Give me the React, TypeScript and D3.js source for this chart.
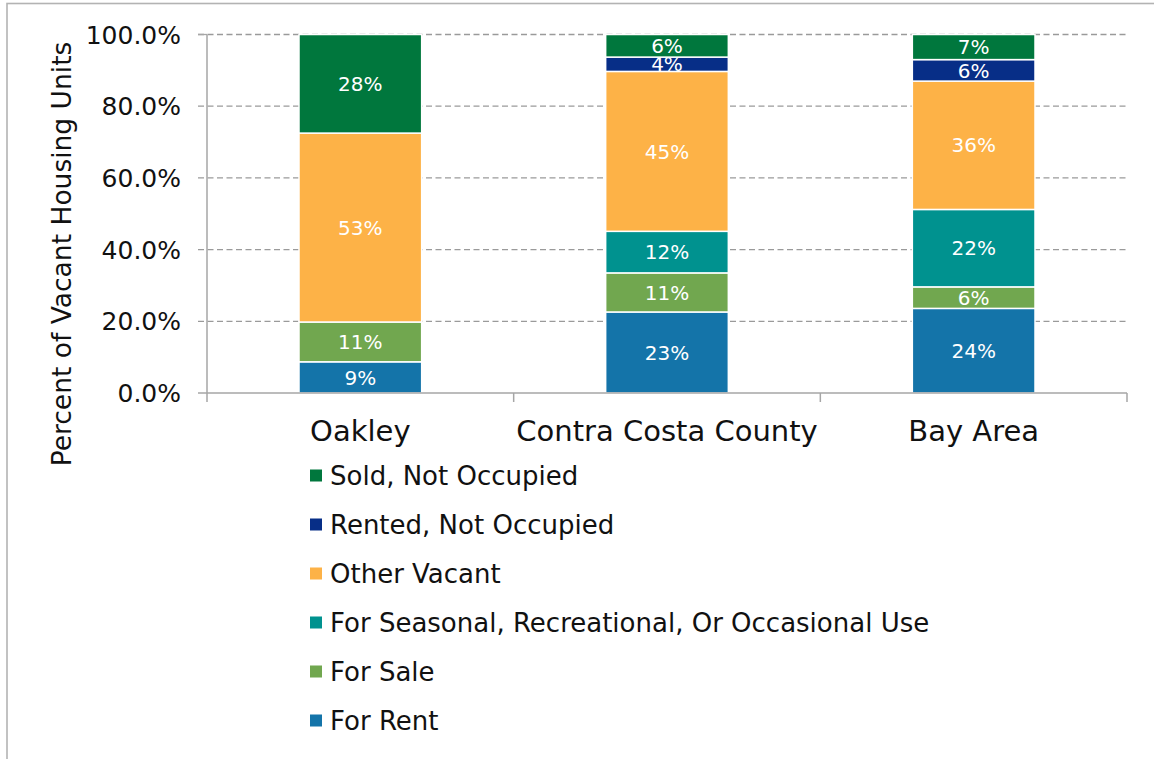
import React from "react";
import * as d3 from "d3";

const categories = ["Oakley", "Contra Costa County", "Bay Area"];
const seriesNames = [
  "For Rent",
  "For Sale",
  "For Seasonal, Recreational, Or Occasional Use",
  "Other Vacant",
  "Rented, Not Occupied",
  "Sold, Not Occupied",
];
const seriesColors = ["#1474A9", "#71A74F", "#00928F", "#FDB247", "#072E87", "#00773D"];
const forRent = [8.7, 22.6, 23.6];
const forSale = [11.1, 10.9, 6.0];
const seasonal = [0, 11.6, 21.6];
const otherVacant = [52.7, 44.6, 35.8];
const rentedNotOcc = [0, 4.0, 6.0];
const soldNotOcc = [27.5, 6.3, 7.0];
const yTicks = [0, 20, 40, 60, 80, 100];

const seriesValues = [forRent, forSale, seasonal, otherVacant, rentedNotOcc, soldNotOcc];

const W = 1154;
const H = 759;
const FONT = "'DejaVu Sans', sans-serif";

export default function App() {
  const x0 = 207, x1 = 1127, yTop = 34.5, yBot = 393;
  const x = d3.scaleBand<string>().domain(categories).range([x0, x1]).paddingInner(0.6).paddingOuter(0.3);
  const y = d3.scaleLinear().domain([0, 100]).range([yBot, yTop]);
  const rows = categories.map((c, i) => {
    const r: any = { cat: c };
    seriesNames.forEach((s, k) => (r[s] = seriesValues[k][i]));
    return r;
  });
  const stack = d3.stack<any>().keys(seriesNames)(rows);
  const step = x.step();
  const boundaries = d3.range(categories.length + 1).map((i) => x0 + i * step);
  const fmt = d3.format(".1f");

  return (
    <svg width={W} height={H} style={{ position: "absolute", left: 0, top: 0, background: "#fff" }} fontFamily={FONT}>
      <rect x={7} y={3.5} width={1300} height={900} fill="#fff" stroke="#b3b3b3" strokeWidth={1.6} />
      {/* gridlines */}
      {yTicks.filter((t) => t > 0).map((t) => (
        <line key={t} x1={x0 - 9} x2={x1} y1={y(t)} y2={y(t)} stroke="#9a9a9a" strokeWidth={1.3} strokeDasharray="6,3.5" />
      ))}
      {/* y axis */}
      <line x1={x0} x2={x0} y1={yTop} y2={yBot} stroke="#a6a6a6" strokeWidth={1.5} />
      <line x1={x0 - 9} x2={x0} y1={yTop} y2={yTop} stroke="#a6a6a6" strokeWidth={1.3} />
      {yTicks.map((t) => (
        <text key={t} x={181} y={y(t)} dy="0.36em" textAnchor="end" fontSize={25} fill="#111">
          {fmt(t) + "%"}
        </text>
      ))}
      {/* bars */}
      {stack.map((layer, k) => (
        <g key={layer.key}>
          {layer.map((d, i) => {
            const v = d[1] - d[0];
            if (v <= 0) return null;
            const bx = x(categories[i])!;
            return (
              <g key={i}>
                <rect x={bx} y={y(d[1])} width={x.bandwidth()} height={y(d[0]) - y(d[1])} fill={seriesColors[k]} stroke="#fff" strokeWidth={1.5} />
                <text x={bx + x.bandwidth() / 2} y={(y(d[0]) + y(d[1])) / 2} dy="0.36em" textAnchor="middle" fontSize={20} fill="#fff">
                  {Math.round(v) + "%"}
                </text>
              </g>
            );
          })}
        </g>
      ))}
      {/* x axis */}
      <line x1={x0 - 9} x2={x1} y1={yBot} y2={yBot} stroke="#a6a6a6" strokeWidth={1.5} />
      {boundaries.map((b, i) => (
        <line key={i} x1={b} x2={b} y1={yBot} y2={yBot + 9} stroke="#a6a6a6" strokeWidth={1.5} />
      ))}
      {categories.map((c) => (
        <text key={c} x={x(c)! + x.bandwidth() / 2} y={441} textAnchor="middle" fontSize={29} fill="#111">
          {c}
        </text>
      ))}
      {/* y title */}
      <text transform={`translate(71,254) rotate(-90)`} textAnchor="middle" fontSize={26.5} fill="#111">
        Percent of Vacant Housing Units
      </text>
      {/* legend */}
      {seriesNames.slice().reverse().map((s, j) => {
        const k = seriesNames.length - 1 - j;
        const cy = 475.5 + j * 49;
        return (
          <g key={s}>
            <rect x={310} y={cy - 6} width={12} height={12} fill={seriesColors[k]} />
            <text x={330} y={cy + 9.5} fontSize={26} fill="#111">
              {s}
            </text>
          </g>
        );
      })}
    </svg>
  );
}
